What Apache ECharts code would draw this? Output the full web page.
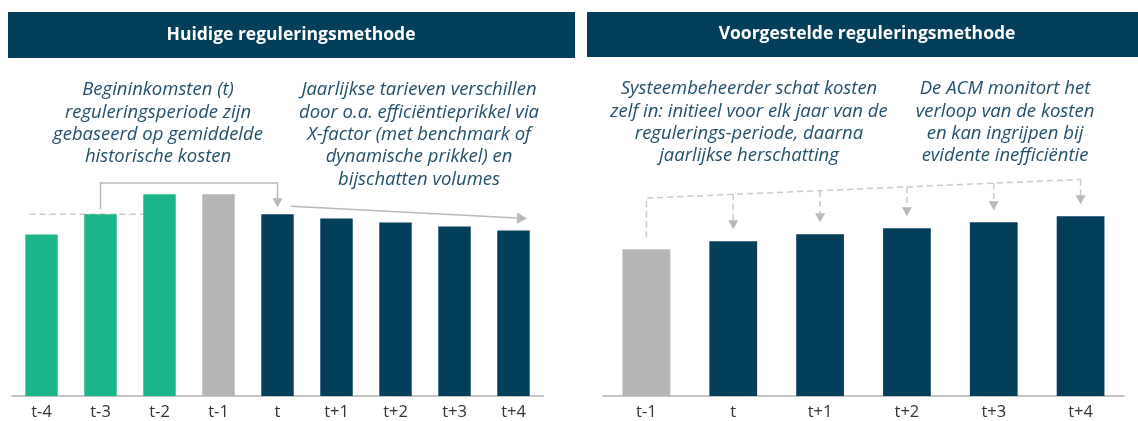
<!DOCTYPE html>
<html>
<head>
<meta charset="utf-8">
<script src="https://cdn.jsdelivr.net/npm/echarts@6/dist/echarts.min.js"></script>
<style>
  html, body { margin: 0; padding: 0; background: #fff; }
  #main { width: 1138px; height: 421px; }
</style>
</head>
<body>
<div id="main"></div>
<script>
// data
var leftCats = ['t-4', 't-3', 't-2', 't-1', 't', 't+1', 't+2', 't+3', 't+4'];
var leftValues = [80, 90, 100, 100, 90, 88, 86, 84, 82];
var leftKinds = ['hist', 'hist', 'hist', 'base', 'reg', 'reg', 'reg', 'reg', 'reg'];
var rightCats = ['t-1', 't', 't+1', 't+2', 't+3', 't+4'];
var rightValues = [73, 77, 80.5, 83.5, 86.5, 89.5];
var rightKinds = ['base', 'reg', 'reg', 'reg', 'reg', 'reg'];

var titles = ['Huidige reguleringsmethode', 'Voorgestelde reguleringsmethode'];
var notes = [
	'Begininkomsten (t)\nreguleringsperiode zijn\ngebaseerd op gemiddelde\nhistorische kosten',
	'Jaarlijkse tarieven verschillen\ndoor o.a. efficiëntieprikkel via\nX-factor (met benchmark of\ndynamische prikkel) en\nbijschatten volumes',
	'Systeembeheerder schat kosten\nzelf in: initieel voor elk jaar van de\nregulerings-periode, daarna\njaarlijkse herschatting',
	'De ACM monitort het\nverloop van de kosten\nen kan ingrijpen bij\nevidente inefficiëntie'
];

var colors = { hist: '#1bb58a', base: '#b5b5b3', reg: '#033f5a' };
var navy = '#033f5a';
var noteColor = '#23506a';
var arrowGrey = '#b9b9b9';
var dashGrey = '#cbcbcb';
var font = '"Open Sans", "Noto Sans", sans-serif';

function barData(values, kinds) {
	return values.map(function (v, i) {
		return { value: v, itemStyle: { color: colors[kinds[i]] } };
	});
}

function xAxisFor(cats, grid) {
	return {
		type: 'category', gridIndex: grid, data: cats,
		axisTick: { show: false },
		axisLine: { lineStyle: { color: '#c4c4c4', width: 2 } },
		axisLabel: { color: '#333', fontSize: 16.5, fontFamily: font, margin: 8 }
	};
}
function yAxisFor(grid) {
	return { type: 'value', gridIndex: grid, min: 0, max: 110, show: false, splitLine: { show: false } };
}

var chart = echarts.init(document.getElementById('main'));
chart.setOption({
	animation: false,
	grid: [
		{ left: 12, right: 595, top: 174, bottom: 21.5 },
		{ left: 603, right: 14, top: 175, bottom: 21 }
	],
	xAxis: [xAxisFor(leftCats, 0), xAxisFor(rightCats, 1)],
	yAxis: [yAxisFor(0), yAxisFor(1)],
	series: [
		{ type: 'bar', xAxisIndex: 0, yAxisIndex: 0, barWidth: '55%', data: barData(leftValues, leftKinds) },
		{ type: 'bar', xAxisIndex: 1, yAxisIndex: 1, barWidth: '55%', data: barData(rightValues, rightKinds) }
	]
});

// annotations, placed from the axes
function px(grid, i, v) {
	return chart.convertToPixel({ gridIndex: grid }, [i, v]);
}
function downArrow(x, y) {
	return { type: 'polygon', shape: { points: [[x - 5, y - 9], [x + 5, y - 9], [x, y]] }, style: { fill: arrowGrey } };
}
function line(points, dashed) {
	return {
		type: 'polyline', shape: { points: points },
		style: { stroke: dashed ? dashGrey : arrowGrey, lineWidth: 1.5, lineDash: dashed ? [6, 4] : null, fill: null }
	};
}
function noteText(txt, x, y) {
	return {
		type: 'text', x: x, y: y,
		style: { text: txt, fill: noteColor, fontSize: 18.5, fontStyle: 'italic', fontFamily: font, align: 'center', verticalAlign: 'top', lineHeight: 22.3 }
	};
}

var g = [];
// title bars
g.push({ type: 'rect', shape: { x: 8, y: 12, width: 567, height: 46 }, style: { fill: navy } });
g.push({ type: 'rect', shape: { x: 587, y: 12, width: 551, height: 45 }, style: { fill: navy } });
g.push({ type: 'text', x: 291, y: 35, style: { text: titles[0], fill: '#fff', fontSize: 17.5, fontWeight: 'bold', fontFamily: font, align: 'center', verticalAlign: 'middle' } });
g.push({ type: 'text', x: 867, y: 34.5, style: { text: titles[1], fill: '#fff', fontSize: 17.5, fontWeight: 'bold', fontFamily: font, align: 'center', verticalAlign: 'middle' } });

g.push(noteText(notes[0], 158, 79));
g.push(noteText(notes[1], 419, 79));
g.push(noteText(notes[2], 749, 78));
g.push(noteText(notes[3], 1005, 78));

// left: mean of historical years
var band = px(0, 1, 0)[0] - px(0, 0, 0)[0];
var avg = (leftValues[0] + leftValues[1] + leftValues[2]) / 3;
var a0 = px(0, 0, avg), a1 = px(0, 2, avg);
g.push(line([[a0[0] - band * 0.2, a0[1]], [a1[0] + band * 0.28, a1[1]]], true));

// left: bracket from t-3 to t
var p3 = px(0, 1, leftValues[1]), pt = px(0, 4, leftValues[4]);
var topY = px(0, 0, 105.5)[1];
g.push(line([[p3[0], p3[1] - 5], [p3[0], topY], [pt[0], topY], [pt[0], pt[1] - 12]], false));
g.push(downArrow(pt[0], pt[1] - 7));

// left: sloped arrow over regulated years
var s0 = [pt[0] + band * 0.23, pt[1] - 8];
var pe = px(0, 8, leftValues[8]);
var s1 = [pe[0] + band * 0.23, pe[1] - 12];
var ang = Math.atan2(s1[1] - s0[1], s1[0] - s0[0]);
var back = [s1[0] - 10 * Math.cos(ang), s1[1] - 10 * Math.sin(ang)];
g.push(line([s0, back], false));
g.push({ type: 'polygon', shape: { points: [
	[back[0] + 5.5 * Math.sin(ang), back[1] - 5.5 * Math.cos(ang)],
	[back[0] - 5.5 * Math.sin(ang), back[1] + 5.5 * Math.cos(ang)],
	s1
] }, style: { fill: arrowGrey } });

// right: dashed links from t-1 to each estimate
var r0 = px(1, 0, rightValues[0]);
var lStart = [r0[0], px(1, 0, 98.5)[1]];
var lEnd = [px(1, 5, 0)[0], px(1, 5, 107.8)[1]];
g.push(line([[r0[0], r0[1] - 12], lStart, lEnd], true));
for (var i = 1; i < rightValues.length; i++) {
	var p = px(1, i, rightValues[i]);
	var yl = lStart[1] + (lEnd[1] - lStart[1]) * (p[0] - lStart[0]) / (lEnd[0] - lStart[0]);
	var tip = p[1] - 12;
	g.push(line([[p[0], yl], [p[0], tip - 9]], true));
	g.push(downArrow(p[0], tip));
}

chart.setOption({ graphic: g });
</script>
</body>
</html>
